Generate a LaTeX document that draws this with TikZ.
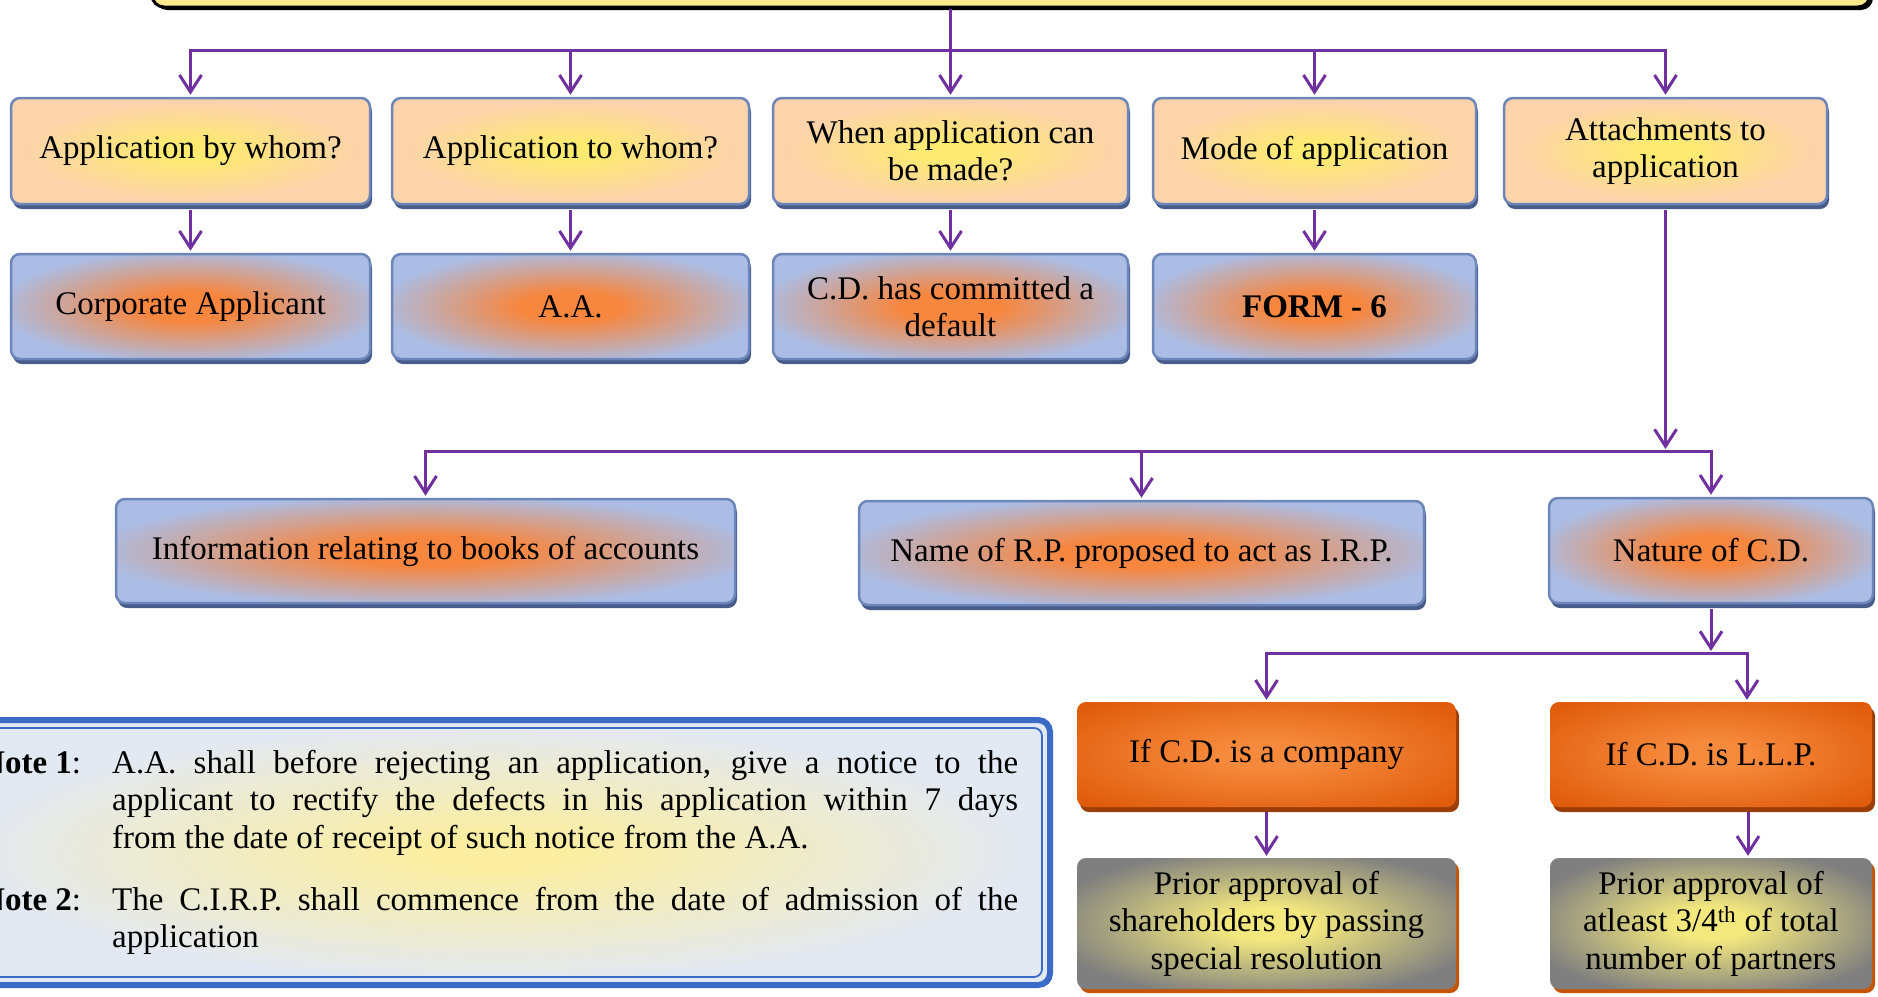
\documentclass[tikz,border=0pt]{standalone}
\usepackage{fontspec}
\setmainfont{Liberation Serif}
\usetikzlibrary{arrows.meta,shadows}

% palette
\definecolor{peach}{RGB}{252,211,170}
\definecolor{peachcore}{RGB}{253,234,112}
\definecolor{bluefill}{RGB}{171,189,229}
\definecolor{bluecore}{RGB}{247,134,62}
\definecolor{boxedge}{RGB}{108,134,186}
\definecolor{boxshade}{RGB}{72,92,140}
\definecolor{orangeedge}{RGB}{224,91,12}
\definecolor{orangecore}{RGB}{246,138,60}
\definecolor{orangeshade}{RGB}{156,62,6}
\definecolor{greyfill}{RGB}{127,127,127}
\definecolor{greycore}{RGB}{243,232,126}
\definecolor{greyshade}{RGB}{196,86,12}
\definecolor{notefill}{RGB}{227,233,243}
\definecolor{notecore}{RGB}{251,238,160}
\definecolor{noteedge}{RGB}{58,107,198}
\definecolor{bannerfill}{RGB}{251,233,140}
\definecolor{wirecol}{RGB}{112,48,160}

% soft centre glows for the box fills
\pgfdeclareradialshading{peachglow}{\pgfpoint{0bp}{0bp}}{color(0bp)=(peachcore); color(4bp)=(peachcore); color(23bp)=(peach); color(50bp)=(peach)}
\pgfdeclareradialshading{blueglow}{\pgfpoint{0bp}{0bp}}{color(0bp)=(bluecore); color(7bp)=(bluecore); color(27bp)=(bluefill); color(50bp)=(bluefill)}
\pgfdeclareradialshading{orangeglow}{\pgfpoint{0bp}{0bp}}{color(0bp)=(orangecore); color(6bp)=(orangecore); color(33bp)=(orangeedge); color(50bp)=(orangeedge)}
\pgfdeclareradialshading{greyglow}{\pgfpoint{0bp}{0bp}}{color(0bp)=(greycore); color(6bp)=(greycore); color(29bp)=(greyfill); color(50bp)=(greyfill)}
\pgfdeclareradialshading{noteglow}{\pgfpoint{0bp}{0bp}}{color(0bp)=(notecore); color(3bp)=(notecore); color(24bp)=(notefill); color(50bp)=(notefill)}

\begin{document}
\begin{tikzpicture}[x=1pt,y=-1pt,
  every node/.style={font=\fontsize{33}{37.5}\selectfont},
  box/.style={rounded corners=9pt, inner sep=0pt, align=center, shade},
  qbox/.style={box, draw=boxedge, line width=2.5pt, shading=peachglow,
    drop shadow={shadow xshift=2pt, shadow yshift=-5pt, fill=boxshade, opacity=1}},
  abox/.style={box, draw=boxedge, line width=2.5pt, shading=blueglow,
    drop shadow={shadow xshift=2pt, shadow yshift=-5pt, fill=boxshade, opacity=1}},
  obox/.style={box, shading=orangeglow,
    drop shadow={shadow xshift=3pt, shadow yshift=-5pt, fill=orangeshade, opacity=1}},
  gbox/.style={box, shading=greyglow,
    drop shadow={shadow xshift=3pt, shadow yshift=-4pt, fill=greyshade, opacity=1}},
  banner/.style={rounded corners=12pt, draw=black, line width=3pt, fill=bannerfill,
    drop shadow={shadow xshift=3pt, shadow yshift=-3pt, fill=black, opacity=1}},
  wire/.style={draw=wirecol, line width=3pt, line cap=rect},
  arrowline/.style={draw=wirecol, line width=3pt,
    -{Straight Barb[length=17pt,width=22pt]}, shorten >=2pt},
]
\useasboundingbox (0,0) rectangle (1878,996);
\clip (0,0) rectangle (1878,996);

% heading strip along the top edge
\node[banner, minimum width=1718pt, minimum height=80pt] (banner) at (1011,-33) {};

% first row: questions
\node[qbox, minimum width=359pt, minimum height=106pt] (q1) at (190.5,151) {Application by whom?};
\node[qbox, minimum width=357pt, minimum height=106pt] (q2) at (570.5,151) {Application to whom?};
\node[qbox, minimum width=355pt, minimum height=106pt] (q3) at (950.5,151) {When application can\\be made?};
\node[qbox, minimum width=323pt, minimum height=106pt] (q4) at (1314.5,151) {Mode of application};
\node[qbox, minimum width=323pt, minimum height=106pt] (q5) at (1665.5,151) {Attachments to\\application};

% second row: answers
\node[abox, minimum width=359pt, minimum height=105pt] (a1) at (190.5,306.5) {Corporate Applicant};
\node[abox, minimum width=357pt, minimum height=105pt] (a2) at (570.5,306.5) {A.A.};
\node[abox, minimum width=355pt, minimum height=105pt] (a3) at (950.5,306.5) {C.D. has committed a\\default};
\node[abox, minimum width=323pt, minimum height=105pt] (a4) at (1314.5,306.5) {\textbf{FORM - 6}};

% attachments
\node[abox, minimum width=619pt, minimum height=104pt] (m1) at (425.5,551) {Information relating to books of accounts};
\node[abox, minimum width=565pt, minimum height=104pt] (m2) at (1141.5,553) {Name of R.P. proposed to act as I.R.P.};
\node[abox, minimum width=324pt, minimum height=105pt] (m3) at (1711,550.5) {Nature of C.D.};

% nature of the corporate debtor
\node[obox, minimum width=379pt, minimum height=105pt] (o1) at (1266.5,754.5) {If C.D. is a company};
\node[obox, minimum width=322pt, minimum height=105pt] (o2) at (1711,754.5) {If C.D. is L.L.P.};
\node[gbox, minimum width=379pt, minimum height=131pt] (g1) at (1266.5,923.5) {Prior approval of\\shareholders by passing\\special resolution};
\node[gbox, minimum width=322pt, minimum height=131pt] (g2) at (1711,923.5) {Prior approval of\\atleast 3/4\textsuperscript{th} of total\\number of partners};

% notes panel
\fill[shade, shading=noteglow, rounded corners=12pt] (-60,718) rectangle (1052,987);
\draw[noteedge, line width=6pt, rounded corners=12pt] (-60,720) rectangle (1050,985);
\draw[noteedge, line width=1.8pt, rounded corners=8pt] (-60,728) rectangle (1042,977);
\node[anchor=base west, inner sep=0pt] (n1lab) at (-19,773) {\textbf{Note 1}:};
\node[anchor=base west, inner sep=0pt] (n1txt) at (112,773) {\parbox[t]{906pt}{%
  \makebox[906pt][s]{A.A. shall before rejecting an application, give a notice to the}\\
  \makebox[906pt][s]{applicant to rectify the defects in his application within 7 days}\\
  from the date of receipt of such notice from the A.A.}};
\node[anchor=base west, inner sep=0pt] (n2lab) at (-19,910) {\textbf{Note 2}:};
\node[anchor=base west, inner sep=0pt] (n2txt) at (112,910) {\parbox[t]{906pt}{%
  \makebox[906pt][s]{The C.I.R.P. shall commence from the date of admission of the}\\
  application}};

% connectors
\coordinate (bus1) at (0,50);
\coordinate (bus2) at (0,451);
\coordinate (bus3) at (0,653);
\coordinate (o2in) at ([xshift=36pt]o2.north);
\coordinate (o2out) at ([xshift=37pt]o2.south);
\coordinate (g2in) at ([xshift=37pt]g2.north);

\draw[wire] (q1.north |- bus1) -- (q5.north |- bus1);
\draw[arrowline] (q3.north |- banner.south) -- (q3.north);
\foreach \n in {q1,q2,q4,q5} \draw[arrowline] (\n.north |- bus1) -- (\n.north);
\foreach \n in {1,2,3,4} \draw[arrowline, shorten <=5pt] (q\n.south) -- (a\n.north);

\draw[arrowline, shorten <=5pt] (q5.south) -- (q5.south |- bus2);
\draw[wire] (m1.north |- bus2) -- (m3.north |- bus2);
\foreach \n in {m1,m2,m3} \draw[arrowline] (\n.north |- bus2) -- (\n.north);

\draw[arrowline, shorten <=5pt] (m3.south) -- (m3.south |- bus3);
\draw[wire] (o1.north |- bus3) -- (o2in |- bus3);
\draw[arrowline] (o1.north |- bus3) -- (o1.north);
\draw[arrowline] (o2in |- bus3) -- (o2in);
\draw[arrowline, shorten <=5pt] (o1.south) -- (g1.north);
\draw[arrowline, shorten <=5pt] (o2out) -- (g2in);
\end{tikzpicture}
\end{document}
